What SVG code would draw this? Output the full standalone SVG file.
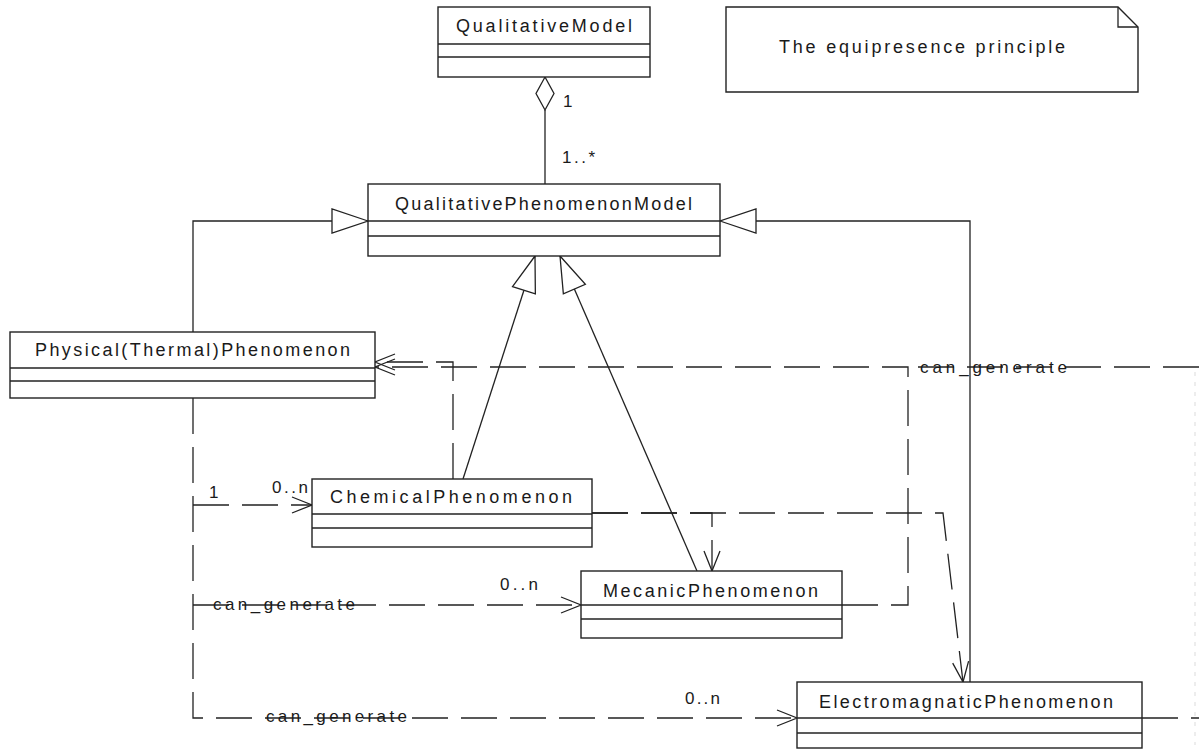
<svg xmlns="http://www.w3.org/2000/svg" width="1199" height="751" viewBox="0 0 1199 751">
  <style>
    .box{fill:#fff;stroke:#222;stroke-width:1.4}
    .sep{stroke:#222;stroke-width:1.4}
    .name{font-family:"Liberation Sans",Arial,sans-serif;font-size:18px;fill:#1a1a1a}
    .lbl{font-family:"Liberation Sans",Arial,sans-serif;font-size:17px;fill:#1a1a1a}
    .solid{fill:none;stroke:#222;stroke-width:1.3}
    .dash{fill:none;stroke:#222;stroke-width:1.3;stroke-dasharray:36 13}
    .faint{fill:none;stroke:#e2e2e2;stroke-width:1.2;stroke-dasharray:4 6}
  </style>
  <defs>
    <!-- open arrowhead for dependencies -->
    <marker id="open" markerUnits="userSpaceOnUse" markerWidth="30" markerHeight="30" viewBox="-25 -15 30 30" refX="0" refY="0" orient="auto">
      <path d="M-20,-8 L0,0 L-20,8" fill="none" stroke="#222" stroke-width="1.3"/>
    </marker>
    <!-- hollow triangle for generalization -->
    <marker id="gen" markerUnits="userSpaceOnUse" markerWidth="45" markerHeight="30" viewBox="-40 -15 45 30" refX="0" refY="0" orient="auto">
      <path d="M0,0 L-36,-12 L-36,12 Z" fill="#fff" stroke="#222" stroke-width="1.3"/>
    </marker>
  </defs>

  <rect width="1199" height="751" fill="#fff"/>

  <g id="connectors">
    <!-- aggregation QualitativeModel - QualitativePhenomenonModel -->
    <path class="solid" d="M545,110 V184"/>
    <polygon points="545,77 554,93.5 545,110 536,93.5" fill="#fff" stroke="#222" stroke-width="1.3"/>
    <!-- generalizations -->
    <path class="solid" d="M193,332 V221 H368" marker-end="url(#gen)"/>
    <path class="solid" d="M970,682 V221 H720" marker-end="url(#gen)"/>
    <path class="solid" d="M463,479 L535,256" marker-end="url(#gen)"/>
    <path class="solid" d="M697,571 L560,256" marker-end="url(#gen)"/>
    <!-- dependencies -->
    <path class="dash" d="M453,479 V362 H375" marker-end="url(#open)"/>
    <path class="dash" d="M842,605 H908 V367 H375" marker-end="url(#open)"/>
    <path class="dash" d="M1199,367 H908"/>
    <path class="dash" d="M592,513 H712 V571" marker-end="url(#open)"/>
    <path class="dash" d="M592,513 H943 L963,682" marker-end="url(#open)"/>
    <path class="dash" d="M193,398 V718 H797" marker-end="url(#open)"/>
    <path class="dash" d="M193,505 H312" marker-end="url(#open)"/>
    <path class="dash" d="M193,605 H581" marker-end="url(#open)"/>
    <path class="dash" d="M1142,718 H1199"/>
    <path class="faint" d="M1195,372 V745"/>
    <!-- labels -->
    <text class="lbl" x="563" y="107">1</text>
    <text class="lbl" x="562" y="163" textLength="33" lengthAdjust="spacing">1..*</text>
    <text class="lbl" x="209" y="498">1</text>
    <text class="lbl" x="272" y="493" textLength="36" lengthAdjust="spacing">0..n</text>
    <text class="lbl" x="213" y="610" textLength="142" lengthAdjust="spacing">can_generate</text>
    <text class="lbl" x="500" y="590" textLength="38" lengthAdjust="spacing">0..n</text>
    <text class="lbl" x="266" y="722" textLength="141" lengthAdjust="spacing">can_generate</text>
    <text class="lbl" x="685" y="704" textLength="35" lengthAdjust="spacing">0..n</text>
    <text class="lbl" x="920" y="373" textLength="147" lengthAdjust="spacing">can_generate</text>
  </g>

  <g id="note">
    <path class="box" d="M726,7 H1118 L1138,27 V92 H726 Z"/>
    <path fill="none" stroke="#222" stroke-width="1.3" d="M1118,7 V27 H1138"/>
    <text class="name" x="779" y="53" textLength="286" lengthAdjust="spacing">The equipresence principle</text>
  </g>

  <g id="QualitativeModel">
    <rect class="box" x="438" y="7" width="212" height="70"/>
    <line class="sep" x1="438" y1="44" x2="650" y2="44"/>
    <line class="sep" x1="438" y1="57" x2="650" y2="57"/>
    <text class="name" x="456" y="32" textLength="176" lengthAdjust="spacing">QualitativeModel</text>
  </g>

  <g id="QualitativePhenomenonModel">
    <rect class="box" x="368" y="184" width="352" height="72"/>
    <line class="sep" x1="368" y1="221" x2="720" y2="221"/>
    <line class="sep" x1="368" y1="236" x2="720" y2="236"/>
    <text class="name" x="395" y="210" textLength="297" lengthAdjust="spacing">QualitativePhenomenonModel</text>
  </g>

  <g id="PhysicalThermalPhenomenon">
    <rect class="box" x="10" y="332" width="365" height="66"/>
    <line class="sep" x1="10" y1="368" x2="375" y2="368"/>
    <line class="sep" x1="10" y1="381" x2="375" y2="381"/>
    <text class="name" x="35" y="356" textLength="315" lengthAdjust="spacing">Physical(Thermal)Phenomenon</text>
  </g>

  <g id="ChemicalPhenomenon">
    <rect class="box" x="312" y="479" width="280" height="68"/>
    <line class="sep" x1="312" y1="514" x2="592" y2="514"/>
    <line class="sep" x1="312" y1="528" x2="592" y2="528"/>
    <text class="name" x="330" y="503" textLength="242" lengthAdjust="spacing">ChemicalPhenomenon</text>
  </g>

  <g id="MecanicPhenomenon">
    <rect class="box" x="581" y="571" width="261" height="67"/>
    <line class="sep" x1="581" y1="605" x2="842" y2="605"/>
    <line class="sep" x1="581" y1="619" x2="842" y2="619"/>
    <text class="name" x="603" y="597" textLength="215" lengthAdjust="spacing">MecanicPhenomenon</text>
  </g>

  <g id="ElectromagnaticPhenomenon">
    <rect class="box" x="797" y="682" width="345" height="66"/>
    <line class="sep" x1="797" y1="718" x2="1142" y2="718"/>
    <line class="sep" x1="797" y1="733" x2="1142" y2="733"/>
    <text class="name" x="819" y="708" textLength="294" lengthAdjust="spacing">ElectromagnaticPhenomenon</text>
  </g>
</svg>
